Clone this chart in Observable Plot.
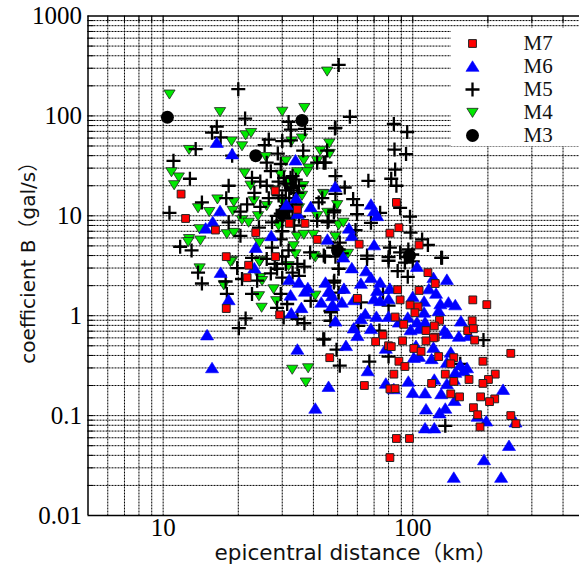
<!DOCTYPE html>
<html><head><meta charset="utf-8">
<style>html,body{margin:0;padding:0;background:#fff}#wrap{position:relative;width:579px;height:566px;overflow:hidden}#wrap svg{position:absolute}</style>
<script src="https://cdn.jsdelivr.net/npm/d3@7"></script>
<script src="https://cdn.jsdelivr.net/npm/@observablehq/plot@0.6"></script>
</head><body><div id="wrap"></div>
<script>
const seriesNames = ["M7","M6","M5","M4","M3"];
const xLabelTicks = [10,100];
const yLabelTicks = [0.01,0.1,1,10,100,1000];
const xGrid = [6,7,8,9,10,20,30,40,50,60,70,80,90,100,200,300,400];
const yGrid = [0.02,0.03,0.04,0.05,0.06,0.07,0.08,0.09,0.1,0.2,0.3,0.4,0.5,0.6,0.7,0.8,0.9,1,2,3,4,5,6,7,8,9,10,20,30,40,50,60,70,80,90,100,200,300,400,500,600,700,800,900];
const m3 = [[10.4,97],[23.5,40],[36,90],[32,21],[30,10.5],[97,4],[50,4.5]];
const m7 = [[11.8,16.5],[12.3,9.4],[16.2,7.2],[28.1,17.8],[34.5,11.6],[32,8.4],[37,8.4],[23.5,6.8],[41.4,5.8],[17.9,3.9],[28.2,3.9],[22,3.2],[21.7,2.4],[17.9,1.18],[29.3,1.02],[46.5,0.38],[86,13.6],[88,7.6],[81,6.7],[61,5.2],[106,5.1],[115,2.7],[123,2.1],[87,1.82],[106,1.79],[89,1.44],[60,1.49],[97.5,1.28],[105,1.23],[102,1.07],[85,0.97],[92,0.82],[174,1.44],[198,1.29],[128,0.9],[173,0.89],[122,0.79],[113,0.71],[166,0.71],[175,0.74],[123,0.61],[121,0.6],[113,0.56],[177,0.57],[76,0.64],[71,0.55],[91,0.56],[80,0.5],[82,0.49],[101,0.47],[108,0.44],[247,0.42],[127,0.39],[146,0.38],[88,0.35],[142,0.33],[191,0.35],[93,0.31],[84,0.26],[135,0.26],[214,0.26],[201,0.23],[191,0.21],[168,0.23],[146,0.22],[119,0.21],[64,0.2],[81,0.185],[85,0.186],[142,0.165],[154,0.154],[187,0.154],[213,0.147],[203,0.138],[175,0.12],[182,0.102],[247,0.1],[259,0.083],[186,0.077],[86,0.059],[97,0.059],[81,0.038]];
const m6 = [[16.4,54],[18.9,41.5],[33.9,36],[48.9,19.5],[31.2,12.9],[34.1,15],[39,12.3],[34.6,10.5],[16.9,11.2],[15.8,8.7],[14.8,7.5],[27.1,6.3],[23.5,4.8],[45.5,5.8],[17,2.7],[23.2,3],[18.3,1.44],[15,0.64],[15.7,0.3],[34.5,0.46],[46,0.195],[40.7,0.118],[32,2.3],[35,2.15],[32.4,1.6],[38,1.9],[37,1.75],[32.6,1.06],[35.8,1.2],[44.7,2.15],[43,1.36],[46.5,1.75],[47.5,1.26],[49,0.88],[68,13],[70,11.2],[72,10],[55.5,7.5],[57,6.3],[70,5.1],[52.7,3.85],[104,3.1],[57,3],[65,2.8],[68,2.4],[137,2.3],[121,2.4],[62,2.1],[74,2.15],[53,1.87],[46,1.75],[72,1.78],[81,1.87],[116,1.85],[124,1.67],[47.5,1.58],[70,1.47],[74,1.41],[80,1.47],[58,1.44],[52,1.36],[48,1.26],[111,1.39],[100,1.55],[129,1.31],[139,1.36],[148,1.28],[127,1.12],[111,1.08],[64.5,1.04],[71.5,0.98],[80,0.98],[62,0.93],[95.5,0.96],[88,0.86],[104,0.86],[112,0.86],[156,0.88],[58,0.75],[68,0.74],[98,0.72],[106,0.74],[134,0.71],[137.5,0.66],[60,0.63],[153,0.62],[168,0.63],[54,0.5],[78,0.47],[103,0.5],[121,0.48],[101,0.38],[106,0.39],[119,0.37],[142,0.43],[137,0.34],[155,0.32],[165,0.3],[160,0.28],[148,0.27],[66,0.28],[122,0.23],[96,0.22],[146,0.23],[78,0.21],[84,0.185],[137,0.208],[100,0.17],[112,0.168],[130,0.165],[147,0.141],[230,0.182],[113,0.116],[135,0.118],[128,0.106],[182,0.098],[197,0.088],[258,0.086],[112,0.075],[122,0.075],[243,0.05],[193,0.036],[146,0.024],[226,0.024]];
const m5 = [[20,185],[21.3,94],[16.4,78],[15.7,68],[17,61],[13.5,46.5],[11,35.5],[12.8,23.5],[18.3,20],[14.3,13.6],[10.6,10.7],[17.9,15],[31.8,87],[32.5,73],[37,74],[48.8,75],[26.5,58],[30,56],[32.5,57],[25.5,51],[36.4,45],[28.8,42],[45.4,45],[18.9,40],[26,34],[29.6,33],[44,34],[41.4,34],[27,28],[22.7,24],[24.5,22],[26,20],[49,25],[32.4,24],[31,21],[33.3,18],[32,15],[23.2,17],[26.5,15],[21.7,13],[24.5,12.3],[20.4,11],[43.4,15],[42,13.6],[48.3,10.8],[18.3,8.6],[27.3,8.6],[29.6,10.5],[41.4,8.9],[46,8.9],[24.2,7.6],[20.4,6.3],[29.6,5.8],[11.7,4.9],[13,4.5],[27.3,4.8],[31.8,4.5],[38.8,4.3],[44,4],[22.7,3.8],[26,3.7],[50.5,324],[56,98],[49,76],[84,83],[95,69],[84.5,46],[94,41.5],[44.7,34],[85,29],[66.4,22.4],[82,23.5],[86,20],[53.4,19.2],[57.7,14.7],[49,16.6],[59.8,12.8],[59.8,10.4],[89,12],[97.5,9.8],[74,10.7],[48.5,11.3],[68,8.5],[45.6,8.6],[59,7.2],[98,6.8],[109,5.8],[115,5.1],[81,4.8],[50.5,4.6],[89,4.3],[65.6,4],[99.5,4.1],[131,3.8],[80,3.85],[44.5,3.9],[65.6,3.7],[80,3.55],[94.5,3.85],[130,3.8],[50.5,2.95],[87,2.8],[95.5,2.45],[48.5,2.24],[50.5,1.7],[62,1.36],[47,1.08],[76,1.7],[80,1.26],[60.5,0.79],[73.5,0.71],[44.2,0.58],[49.5,0.457],[80,0.39],[67,0.347],[51,0.316],[192,0.57],[135,0.079],[155,0.33],[13.8,2.7],[14.3,2.1],[17.8,2.2],[18,1.65],[19.8,3],[20.7,2.33],[23.8,2.24],[22.7,1.65],[21.4,0.94],[20.1,0.75],[27,2.65],[28.6,2.95],[34.5,3.3],[36.8,3.1],[30,2.4],[29.6,1.65],[28.6,1.2],[31.4,1.31],[34.5,0.93],[36.8,0.84],[39,1.41],[43.8,0.58],[46.8,0.89],[46.8,1.12],[48.3,2.15],[30.4,0.96],[33,25],[31,18],[30,15],[34,13],[29,22],[35,20],[32,11],[30,9],[33,11.5],[31,12.5],[34,23],[30.5,24],[32.5,19],[29,16],[34.5,17],[31.5,9.5],[28.5,10],[35,9.8],[33.5,8],[30,7],[48,4.8],[52,4.2],[51,5.4],[49,3.9],[96,4.6],[100,3.5],[93,3.4],[31,3.3],[33,2.7],[35,2.5],[28,3.3],[30,3.9]];
const m4 = [[45.4,280],[10.6,165],[16.9,110],[30,111],[36.8,121],[21.4,64.5],[22.5,68],[18.8,56],[20.7,50],[12.7,46],[36,60],[32.7,56],[46.3,53.4],[42.6,45],[46.5,42],[25.8,39],[31,35.5],[36.6,36],[38.3,30],[41.4,35.5],[10.8,27.5],[11.55,24.4],[11.07,20.4],[21.2,26.8],[22.4,20.2],[37.7,27.5],[29.5,26],[34.5,27.5],[36.4,20],[36,16],[16.5,14.7],[19.2,13.8],[13.8,12],[15.3,11],[19,11.3],[23.1,14.1],[26,12.6],[24,10],[20.7,9.1],[22,8.6],[43.7,16.7],[49.8,12.9],[45.5,10.8],[41.4,10],[50.5,8.1],[14,7.4],[12.7,5.9],[12.6,5.5],[14.1,5.7],[18,6.6],[19.2,6.8],[24.3,5.4],[34.4,6.2],[36.6,6.5],[33.3,5],[49,6.2],[40,6.5],[40.7,3.85],[18.9,3.55],[24.5,3.55],[52.7,8.6],[55,4.2],[44,16.5],[14,3],[17.5,2.03],[18.6,3.47],[24.3,3.47],[24.5,2.4],[24.9,2.24],[24.2,1.58],[24.8,1.21],[27.7,1.85],[28.4,1.41],[40.7,1.6],[32.9,0.29],[38.1,0.3],[37.3,0.216],[31.8,3.16],[33.9,4.15],[40.2,4],[32,22],[30,14],[28,18],[35,12],[33,9],[29,8]];

const serif = "'Liberation Serif','Times New Roman',serif";
const titleFont = "'DejaVu Sans','Noto Sans CJK JP',sans-serif";
const rOf = s => Math.sqrt(s/Math.PI);
const square = {draw(c,s){const a=rOf(s);c.rect(-a,-a,2*a,2*a);}};
const triUp = {draw(c,s){const a=rOf(s);c.moveTo(0,-a);c.lineTo(a*1.15,a*0.85);c.lineTo(-a*1.15,a*0.85);c.closePath();}};
const triDown = {draw(c,s){const a=rOf(s);c.moveTo(0,a);c.lineTo(a*1.15,-a*0.85);c.lineTo(-a*1.15,-a*0.85);c.closePath();}};
const plus = {draw(c,s){const a=rOf(s);c.moveTo(-a,0);c.lineTo(a,0);c.moveTo(0,-a);c.lineTo(0,a);}};
const styles = {
  M3:{symbol:"circle",r:6.5,fill:"#000",stroke:"#000",strokeWidth:0},
  M4:{symbol:triDown,r:4.9,fill:"#00e800",stroke:"#222",strokeWidth:0.8},
  M5:{symbol:plus,r:7,fill:"none",stroke:"#000",strokeWidth:2.3},
  M6:{symbol:triUp,r:5.7,fill:"#0000ff",stroke:"#0000ff",strokeWidth:0.6},
  M7:{symbol:square,r:3.9,fill:"#ff0000",stroke:"#222",strokeWidth:1}
};
const dash = {stroke:"#000",strokeWidth:1,strokeDasharray:"2,1"};
const main = Plot.plot({
  width:579,height:566,marginLeft:87.5,marginRight:0,marginTop:15.5,marginBottom:51,
  style:{fontFamily:serif,background:"transparent"},
  x:{type:"log",domain:[5,465.6]},
  y:{type:"log",domain:[0.01,1000]},
  marks:[
    Plot.ruleX(xGrid,dash),
    Plot.ruleY(yGrid,dash),
    Plot.axisY(yGrid,{anchor:"left",tickSize:-6,tickFormat:()=>"",label:null,strokeWidth:1}),
    Plot.axisX(xGrid,{anchor:"top",tickSize:-6,tickFormat:()=>"",label:null,strokeWidth:1}),
    Plot.axisX(xLabelTicks,{anchor:"bottom",tickSize:0,tickPadding:3,fontSize:25,tickFormat:d=>String(d),label:null}),
    Plot.axisY(yLabelTicks,{anchor:"left",tickSize:0,tickPadding:6,fontSize:25,tickFormat:d=>String(d),label:null}),
    Plot.ruleX([5],{stroke:"#000",strokeWidth:1.5}),
    Plot.ruleY([0.01,1000],{stroke:"#000",strokeWidth:1.5}),
    Plot.dot(m3,{x:d=>d[0],y:d=>d[1],...styles.M3}),
    Plot.dot(m4,{x:d=>d[0],y:d=>d[1],...styles.M4}),
    Plot.dot(m5,{x:d=>d[0],y:d=>d[1],...styles.M5}),
    Plot.dot(m6,{x:d=>d[0],y:d=>d[1],...styles.M6}),
    Plot.dot(m7,{x:d=>d[0],y:d=>d[1],...styles.M7}),
    Plot.text(["epicentral distance（km）"],{frameAnchor:"bottom",textAnchor:"middle",dy:44,dx:22,fontSize:21.5,fontFamily:titleFont,fill:"#111"}),
    Plot.text(["coefficient B（gal/s）"],{frameAnchor:"left",textAnchor:"middle",rotate:-90,dx:-59,dy:-8,fontSize:20,fontFamily:titleFont,fill:"#111"})
  ]
});
const wrap = document.getElementById("wrap");
main.style.left="0";main.style.top="0";
wrap.appendChild(main);
const legend = Plot.plot({
  width:128,height:118,margin:0,marginTop:14,marginBottom:10,
  style:{fontFamily:serif,background:"#fff"},
  x:{axis:null,domain:[0,1],range:[0,128]},
  y:{type:"point",domain:seriesNames,axis:null,padding:0},
  marks:seriesNames.map(n=>Plot.dot([n],{y:d=>d,frameAnchor:"left",dx:21,...styles[n]})).concat([
    Plot.text(seriesNames,{y:d=>d,frameAnchor:"left",dx:72,textAnchor:"start",fontSize:21,fill:"#111"})
  ])
});
legend.style.left="451px";legend.style.top="28px";
wrap.appendChild(legend);
</script></body></html>
